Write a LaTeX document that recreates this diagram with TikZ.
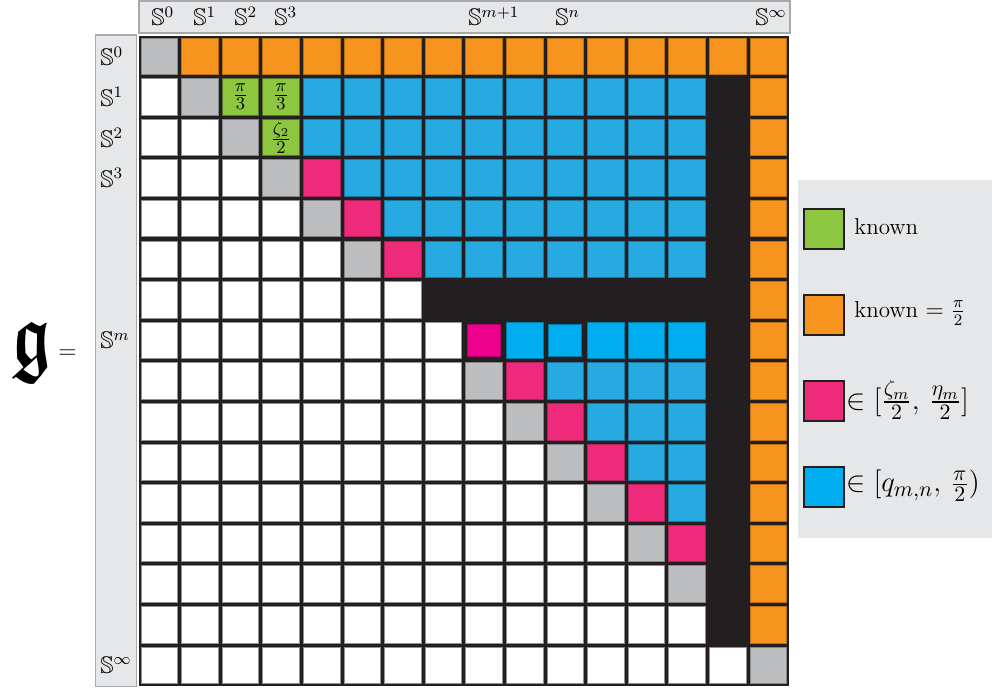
\documentclass[tikz,border=0pt]{standalone}
\usepackage{amssymb}
\usepackage{graphicx}
\definecolor{korange}{HTML}{F7941D}
\definecolor{kgray}{HTML}{BCBEC0}
\definecolor{kgreen}{HTML}{8DC63F}
\definecolor{kblue}{HTML}{27AAE1}
\definecolor{kbright}{HTML}{00AEEF}
\definecolor{kpink}{HTML}{EE2A7B}
\definecolor{kmag}{HTML}{EC008C}
\definecolor{kblack}{HTML}{231F20}
\definecolor{kpanel}{HTML}{E6E7E8}
\definecolor{kedge}{HTML}{A7A9AC}
\begin{document}
\begin{tikzpicture}[x=0.5pt,y=-0.5pt,
  cell/.style={minimum size=18.25pt, inner sep=0pt, outer sep=0pt, line width=0.45pt},
  cw/.style={cell, fill=white, draw=kedge!85!black},
  cg/.style={cell, fill=kgray, draw=kgray!70!black},
  co/.style={cell, fill=korange, draw=korange!75!black},
  cb/.style={cell, fill=kblue, draw=kblue!70!black},
  cB/.style={cell, fill=kbright, draw=kbright!70!black},
  cS/.style={cB, minimum size=16.4pt},
  cp/.style={cell, fill=kpink, draw=kpink!75!black},
  cP/.style={cell, fill=kmag, draw=kmag!75!black, minimum size=16.4pt},
  cG/.style={cell, fill=kgreen, draw=kgreen!60!black, font=\fontsize{12.5}{14}\selectfont},
  ck/.style={cell},
  cx/.style={cell},
  hlab/.style={anchor=base west, inner sep=0pt, font=\fontsize{12}{14}\selectfont},
  vlab/.style={anchor=west, inner sep=0pt, font=\fontsize{12}{14}\selectfont},
  lsq/.style={minimum size=20pt, inner sep=0pt, draw=kblack, line width=0.6pt},
  ltxt/.style={anchor=west, inner sep=0pt, font=\fontsize{11.5}{13}\selectfont},
  lmath/.style={anchor=west, inner sep=0pt, font=\fontsize{15.5}{18}\selectfont},
  panel/.style={fill=kpanel, draw=kedge, line width=0.8pt}]
\useasboundingbox (0,0) rectangle (992,690);
% header panels
\draw[panel] (139,1) rectangle (790,33);
\draw[panel] (95.5,35) rectangle (136.5,686.5);
% grid background
\fill[kblack] (139,36) rectangle (789,686);
% cells
\foreach \row [count=\j from 0] in {
 {g,o,o,o,o,o,o,o,o,o,o,o,o,o,o,o},
 {w,g,x,x,b,b,b,b,b,b,b,b,b,b,k,o},
 {w,w,g,x,b,b,b,b,b,b,b,b,b,b,k,o},
 {w,w,w,g,p,b,b,b,b,b,b,b,b,b,k,o},
 {w,w,w,w,g,p,b,b,b,b,b,b,b,b,k,o},
 {w,w,w,w,w,g,p,b,b,b,b,b,b,b,k,o},
 {w,w,w,w,w,w,w,k,k,k,k,k,k,k,k,o},
 {w,w,w,w,w,w,w,w,P,B,S,B,B,B,k,o},
 {w,w,w,w,w,w,w,w,g,p,b,b,b,b,k,o},
 {w,w,w,w,w,w,w,w,w,g,p,b,b,b,k,o},
 {w,w,w,w,w,w,w,w,w,w,g,p,b,b,k,o},
 {w,w,w,w,w,w,w,w,w,w,w,g,p,b,k,o},
 {w,w,w,w,w,w,w,w,w,w,w,w,g,p,k,o},
 {w,w,w,w,w,w,w,w,w,w,w,w,w,g,k,o},
 {w,w,w,w,w,w,w,w,w,w,w,w,w,w,k,o},
 {w,w,w,w,w,w,w,w,w,w,w,w,w,w,w,g}}{
  \foreach \c [count=\i from 0] in \row {
    \node[c\c] (c\i-\j) at ({159.3+40.6*\i},{56.3+40.6*\j}) {};
  }
}
% known (green) cells
\node[cG] (g21) at ({159.3+40.6*2},{56.3+40.6*1}) {$\frac{\pi}{3}$};
\node[cG] (g31) at ({159.3+40.6*3},{56.3+40.6*1}) {$\frac{\pi}{3}$};
\node[cG] (g32) at ({159.3+40.6*3},{56.3+40.6*2}) {$\frac{\zeta_2}{2}$};
% column labels
\node[hlab] (h0) at (151,26) {$\mathbb{S}^0$};
\node[hlab] (h1) at (193,26) {$\mathbb{S}^1$};
\node[hlab] (h2) at (234,26) {$\mathbb{S}^2$};
\node[hlab] (h3) at (274,26) {$\mathbb{S}^3$};
\node[hlab] (hm) at (468,26) {$\mathbb{S}^{m+1}$};
\node[hlab] (hn) at (555,26) {$\mathbb{S}^n$};
\node[hlab] (hi) at (755,26) {$\mathbb{S}^\infty$};
% row labels
\node[vlab] (v0) at (100,56.3) {$\mathbb{S}^0$};
\node[vlab] (v1) at (100,96.9) {$\mathbb{S}^1$};
\node[vlab] (v2) at (100,137.5) {$\mathbb{S}^2$};
\node[vlab] (v3) at (100,178.1) {$\mathbb{S}^3$};
\node[vlab] (vm) at (100,340.5) {$\mathbb{S}^m$};
\node[vlab] (vi) at (100,665.3) {$\mathbb{S}^\infty$};
% g =
\node[inner sep=0pt] (gfrak) at (31.5,352) {\fontsize{12}{14}\selectfont\scalebox{2.8}[3.8]{\boldmath$\mathfrak{g}$}};
\node[inner sep=0pt, font=\fontsize{12}{14}\selectfont] (geq) at (67.5,354) {$=$};
% legend
\fill[kpanel] (798,180) rectangle (992,538);
\node[lsq, fill=kgreen] (l1) at (824,229) {};
\node[lsq, fill=korange] (l2) at (824,315) {};
\node[lsq, fill=kpink] (l3) at (824,401) {};
\node[lsq, fill=kbright] (l4) at (824,487) {};
\node[ltxt] (t1) at (854,227) {known};
\node[ltxt] (t2) at (854,313) {known $=\frac{\pi}{2}$};
\node[lmath] (t3) at (846,400) {$\in[\frac{\zeta_m}{2},\,\frac{\eta_m}{2}]$};
\node[lmath] (t4) at (846,486) {$\in[q_{m,n},\,\frac{\pi}{2})$};
\end{tikzpicture}
\end{document}
